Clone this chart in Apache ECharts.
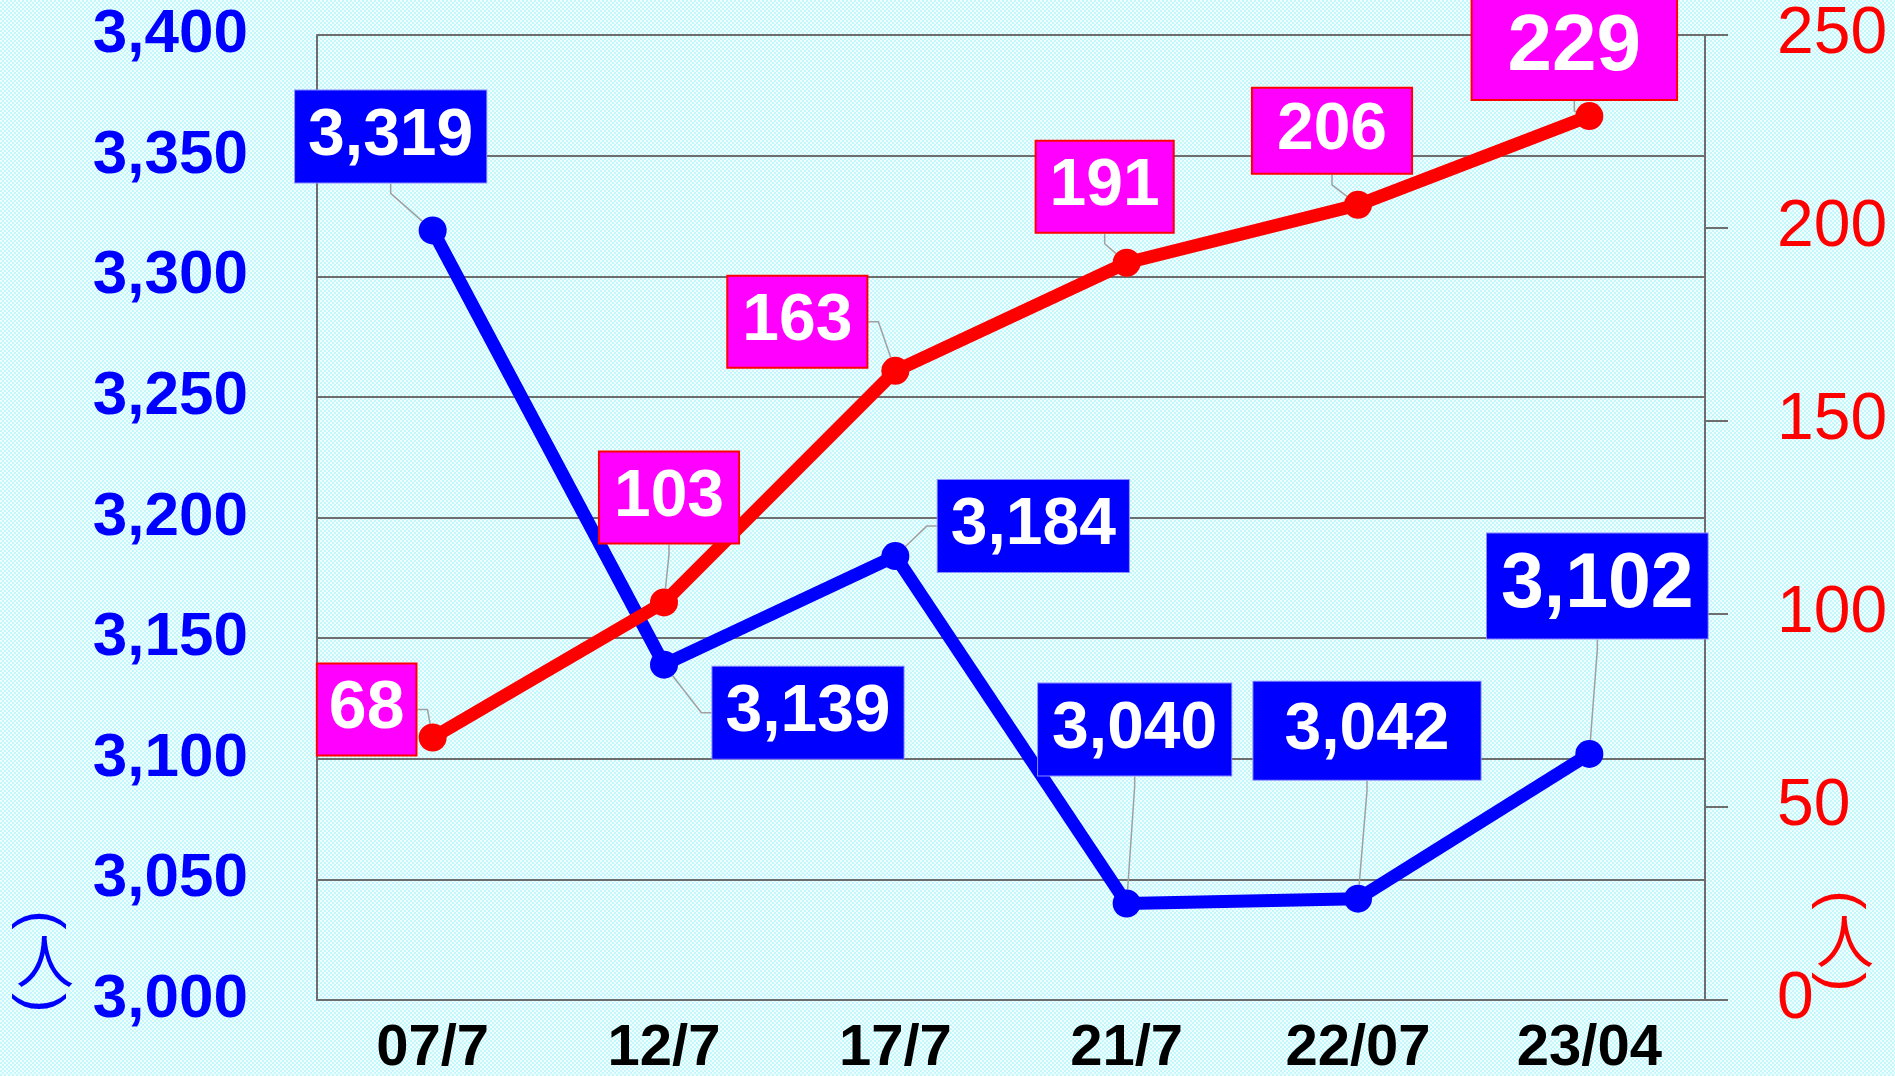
<!DOCTYPE html>
<html>
<head>
<meta charset="utf-8">
<script src="https://cdn.jsdelivr.net/npm/echarts@6/dist/echarts.min.js"></script>
<style>
  html, body { margin: 0; padding: 0; }
  #chart {
    width: 1895px; height: 1076px;
    background: repeating-conic-gradient(#c4f7fb 0% 25%, #effefe 0% 50%) 0 0 / 4px 4px;
  }
</style>
</head>
<body>
<div id="chart"></div>
<script>
// ---- data ----
const categories = ['07/7', '12/7', '17/7', '21/7', '22/07', '23/04'];
const blueValues = [3319, 3139, 3184, 3040, 3042, 3102];   // left axis (人)
const redValues = [68, 103, 163, 191, 206, 229];            // right axis (人)
const leftAxisRange = [3000, 3400, 50];
const rightAxisRange = [0, 250, 50];
const unitLabel = '人';

// ---- label layout (offsets of label box centre from the point, font sizes, paddings) ----
const blueLabelLayout = [
  { dx: -42, dy: -94, fs: 66, pad: [13, 13] },
  { dx: 144, dy: 48, fs: 66, pad: [13, 13] },
  { dx: 138, dy: -30, fs: 66, pad: [13, 13] },
  { dx: 8, dy: -174, fs: 66, pad: [13, 14] },
  { dx: 9, dy: -168, fs: 66, pad: [16, 31] },
  { dx: 8, dy: -168, fs: 77, pad: [14, 14] }
];
const redLabelLayout = [
  { dx: -66, dy: -28, fs: 68, pad: [11, 11] },
  { dx: 5, dy: -105, fs: 66, pad: [12, 14] },
  { dx: -98, dy: -49, fs: 66, pad: [12, 14] },
  { dx: -22, dy: -76, fs: 66, pad: [12, 13] },
  { dx: -26, dy: -74, fs: 66, pad: [9, 24] },
  { dx: -15, dy: -68, fs: 80, pad: [11, 35] }
];

const BLUE = '#0000ff';
const RED = '#ff0000';
const PINK = '#ff00ff';
const GRID = '#6e6e6e';
const numFont = "'Liberation Sans', Arial, sans-serif";

const chart = echarts.init(document.getElementById('chart'), null, { renderer: 'canvas' });

function makeData(values, layout) {
  return values.map((v, i) => ({
    value: v,
    label: {
      fontSize: layout[i].fs,
      lineHeight: layout[i].fs,
      padding: layout[i].pad
    }
  }));
}

function unitGraphic(cx, topY, midY, botY, color) {
  const parenFont = "58px 'Liberation Sans', Arial, sans-serif";
  return [
    { type: 'text', x: cx, y: topY, rotation: -Math.PI / 2,
      style: { text: '(', fill: color, font: parenFont, align: 'center', verticalAlign: 'middle' } },
    { type: 'text', x: cx + 5, y: midY,
      style: { text: unitLabel, fill: color, font: "58px 'Noto Sans CJK JP'", align: 'center', verticalAlign: 'middle' } },
    { type: 'text', x: cx, y: botY, rotation: -Math.PI / 2,
      style: { text: ')', fill: color, font: parenFont, align: 'center', verticalAlign: 'middle' } }
  ];
}

const option = {
  animation: false,
  backgroundColor: 'transparent',
  grid: { left: 317, right: 190, top: 35, bottom: 76, containLabel: false, outerBoundsMode: 'none' },
  xAxis: {
    type: 'category',
    data: categories,
    boundaryGap: true,
    axisLine: { show: true, lineStyle: { color: GRID, width: 2 } },
    axisTick: { show: false },
    splitLine: { show: false },
    axisLabel: {
      color: '#000',
      fontWeight: 'bold',
      fontSize: 58,
      lineHeight: 46,
      fontFamily: "'Liberation Sans Narrow', 'Liberation Sans', Arial, sans-serif",
      margin: 26
    }
  },
  yAxis: [
    {
      type: 'value',
      position: 'left',
      min: leftAxisRange[0], max: leftAxisRange[1], interval: leftAxisRange[2],
      axisLine: { show: true, lineStyle: { color: GRID, width: 2 } },
      axisTick: { show: false },
      splitLine: { show: true, lineStyle: { color: GRID, width: 2 } },
      axisLabel: {
        color: BLUE,
        fontSize: 62,
        fontWeight: 'bold',
        fontFamily: numFont,
        margin: 69,
        formatter: v => v.toLocaleString('en-US')
      }
    },
    {
      type: 'value',
      position: 'right',
      min: rightAxisRange[0], max: rightAxisRange[1], interval: rightAxisRange[2],
      axisLine: { show: true, lineStyle: { color: GRID, width: 2 } },
      axisTick: { show: true, inside: false, length: 23, lineStyle: { color: GRID, width: 2 } },
      splitLine: { show: false },
      axisLabel: {
        color: RED,
        fontSize: 66,
        fontFamily: numFont,
        margin: 72
      }
    }
  ],
  series: [
    {
      name: 'blue',
      type: 'line',
      yAxisIndex: 0,
      data: makeData(blueValues, blueLabelLayout),
      symbol: 'circle',
      symbolSize: 28,
      lineStyle: { color: BLUE, width: 13 },
      itemStyle: { color: BLUE },
      label: {
        show: true,
        position: 'inside',
        color: '#fff',
        fontWeight: 'bold',
        fontFamily: numFont,
        backgroundColor: BLUE,
        borderColor: '#8a8aff',
        borderWidth: 1,
        formatter: p => p.value.toLocaleString('en-US')
      },
      labelLine: { show: true, length2: 10, lineStyle: { color: '#a0a0a0', width: 1.5 } },
      labelLayout: p => ({ dx: blueLabelLayout[p.dataIndex].dx, dy: blueLabelLayout[p.dataIndex].dy })
    },
    {
      name: 'red',
      type: 'line',
      yAxisIndex: 1,
      data: makeData(redValues, redLabelLayout),
      symbol: 'circle',
      symbolSize: 28,
      lineStyle: { color: RED, width: 13 },
      itemStyle: { color: RED },
      label: {
        show: true,
        position: 'inside',
        color: '#fff',
        fontWeight: 'bold',
        fontFamily: numFont,
        backgroundColor: PINK,
        borderColor: RED,
        borderWidth: 2,
        formatter: p => String(p.value)
      },
      labelLine: { show: true, length2: 10, lineStyle: { color: '#a0a0a0', width: 1.5 } },
      labelLayout: p => ({ dx: redLabelLayout[p.dataIndex].dx, dy: redLabelLayout[p.dataIndex].dy })
    }
  ],
  graphic: [].concat(
    unitGraphic(40, 920, 961, 1003, BLUE),
    unitGraphic(1840, 900, 941, 982, RED)
  )
};

chart.setOption(option);
</script>
</body>
</html>
